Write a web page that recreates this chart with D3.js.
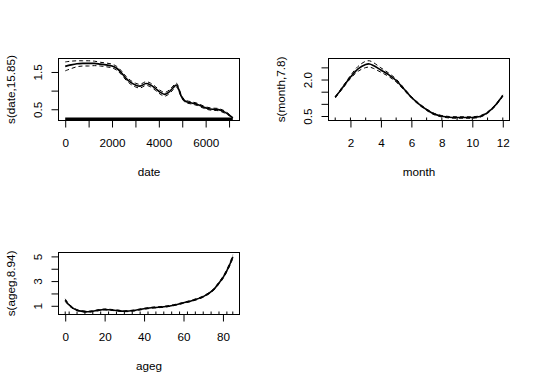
<!DOCTYPE html>
<html>
<head>
<meta charset="utf-8">
<script src="https://cdn.jsdelivr.net/npm/d3@7"></script>
<style>
body { margin: 0; background: #fff; }
svg { display: block; }
text { font-family: "Liberation Sans", Arial, sans-serif; font-size: 11.7px; fill: #000; }
</style>
</head>
<body>
<script>
// s(date) smooth: x, fitted value, half width of the +-2se band
var dateX = [0, 250, 500, 750, 1000, 1250, 1500, 1750, 2000, 2200, 2400, 2600, 2800, 3000, 3200, 3450, 3650, 3850, 4050, 4250, 4450, 4600, 4750, 4900, 5000, 5150, 5400, 5650, 5900, 6100, 6300, 6550, 6800, 7000, 7160]
var dateFit = [1.65, 1.69, 1.72, 1.73, 1.73, 1.73, 1.71, 1.69, 1.66, 1.60, 1.48, 1.33, 1.22, 1.15, 1.12, 1.19, 1.15, 1.06, 0.96, 0.90, 0.97, 1.07, 1.15, 0.95, 0.80, 0.71, 0.67, 0.63, 0.56, 0.52, 0.50, 0.49, 0.43, 0.35, 0.27]
var dateBand = [0.12, 0.10, 0.08, 0.07, 0.07, 0.06, 0.05, 0.05, 0.05, 0.05, 0.05, 0.05, 0.05, 0.05, 0.05, 0.05, 0.05, 0.05, 0.05, 0.05, 0.05, 0.05, 0.05, 0.04, 0.03, 0.03, 0.03, 0.03, 0.03, 0.03, 0.03, 0.03, 0.03, 0.02, 0.01]
var dateXTicks = [0, 1000, 2000, 3000, 4000, 5000, 6000, 7000]
var dateXLabels = [0, 2000, 4000, 6000]
var dateYTicks = [0.5, 1.0, 1.5]
var dateYLabels = [0.5, 1.5]

// s(month) smooth
var monthX = [1, 1.5, 2, 2.5, 3, 3.25, 3.5, 4, 4.5, 5, 5.5, 6, 6.5, 7, 7.5, 8, 8.5, 9, 9.5, 10, 10.5, 11, 11.5, 12]
var monthFit = [1.27, 1.68, 2.10, 2.44, 2.62, 2.64, 2.58, 2.39, 2.20, 1.96, 1.62, 1.27, 0.99, 0.76, 0.58, 0.49, 0.45, 0.44, 0.44, 0.44, 0.48, 0.64, 0.93, 1.34]
var monthBand = [0.03, 0.04, 0.06, 0.10, 0.13, 0.13, 0.12, 0.09, 0.07, 0.06, 0.04, 0.03, 0.03, 0.03, 0.03, 0.03, 0.03, 0.03, 0.03, 0.03, 0.03, 0.03, 0.03, 0.03]
var monthRug = [1, 2, 3, 4, 5, 6, 7, 8, 9, 10, 11, 12]
var monthXTicks = [2, 4, 6, 8, 10, 12]
var monthXLabels = [2, 4, 6, 8, 10, 12]
var monthYTicks = [0.5, 1.0, 1.5, 2.0, 2.5]
var monthYLabels = ["0.5", "2.0"]

// s(ageg) smooth
var agegX = [0, 2, 5, 8, 12, 16, 20, 25, 30, 35, 40, 45, 50, 55, 60, 65, 70, 75, 78, 80, 82, 84, 85]
var agegFit = [1.46, 1.06, 0.71, 0.57, 0.52, 0.62, 0.70, 0.64, 0.56, 0.62, 0.76, 0.86, 0.92, 1.05, 1.24, 1.45, 1.74, 2.27, 2.85, 3.28, 3.85, 4.55, 4.98]
var agegBand = [0.10, 0.06, 0.05, 0.04, 0.04, 0.04, 0.04, 0.04, 0.04, 0.04, 0.04, 0.04, 0.04, 0.04, 0.04, 0.05, 0.05, 0.06, 0.08, 0.09, 0.10, 0.12, 0.15]
var agegRug = [0, 2, 6, 10, 14, 18, 22, 26, 30, 34, 38, 42, 46, 50, 54, 58, 62, 66, 70, 74, 78, 82, 85]
var agegXTicks = [0, 20, 40, 60, 80]
var agegXLabels = [0, 20, 40, 60, 80]
var agegYTicks = [1, 2, 3, 4, 5]
var agegYLabels = [1, 3, 5]

var w = 540
var h = 388

var svg = d3.select("body")
    .append("svg")
    .attr("width", w)
    .attr("height", h)

var panels = [
    { x: dateX, fit: dateFit, band: dateBand, rug: null,
      xTicks: dateXTicks, xLabels: dateXLabels, yTicks: dateYTicks, yLabels: dateYLabels,
      xTitle: "date", yTitle: "s(date,15.85)" },
    { x: monthX, fit: monthFit, band: monthBand, rug: monthRug,
      xTicks: monthXTicks, xLabels: monthXLabels, yTicks: monthYTicks, yLabels: monthYLabels,
      xTitle: "month", yTitle: "s(month,7.8)" },
    { x: agegX, fit: agegFit, band: agegBand, rug: agegRug,
      xTicks: agegXTicks, xLabels: agegXLabels, yTicks: agegYTicks, yLabels: agegYLabels,
      xTitle: "ageg", yTitle: "s(ageg,8.94)" }
]

// R style 4% range expansion
function expand(ext) {
    var d = (ext[1] - ext[0]) * 0.04
    return [ext[0] - d, ext[1] + d]
}

panels.forEach(function(p, i) {
    drawPanel(p, (i % 2) * 270, Math.floor(i / 2) * 194)
})

function drawPanel(p, ox, oy) {
    var left = ox + 58.5, right = ox + 239.5
    var top = oy + 58.5, bottom = oy + 120.5

    var upper = p.fit.map(function(f, i) { return f + p.band[i] })
    var lower = p.fit.map(function(f, i) { return f - p.band[i] })

    var xScale = d3.scaleLinear()
        .domain(expand(d3.extent(p.x)))
        .range([left, right])
    var yScale = d3.scaleLinear()
        .domain(expand([d3.min(lower), d3.max(upper)]))
        .range([bottom, top])

    var g = svg.append("g")

    // axes, labels only where R keeps them
    var xLabelSet = p.xLabels.map(Number)
    var xAxis = d3.axisBottom(xScale)
        .tickValues(p.xTicks)
        .tickSize(7)
        .tickPadding(11)
        .tickFormat(function(d) { return xLabelSet.indexOf(d) >= 0 ? d : "" })
    var ax = g.append("g")
        .attr("transform", "translate(0," + bottom + ")")
        .call(xAxis)
    ax.select(".domain").remove()
    ax.selectAll("line").attr("stroke", "#000")
    ax.selectAll("text").attr("font-size", null).attr("font-family", null)

    var yLabelSet = p.yLabels.map(Number)
    var yLabelText = {}
    p.yLabels.forEach(function(l) { yLabelText[Number(l)] = String(l) })
    var yAxis = d3.axisLeft(yScale)
        .tickValues(p.yTicks)
        .tickSize(7)
        .tickFormat(function(d) { return yLabelSet.indexOf(d) >= 0 ? yLabelText[d] : "" })
    var ay = g.append("g")
        .attr("transform", "translate(" + left + ",0)")
        .call(yAxis)
    ay.select(".domain").remove()
    ay.selectAll("line").attr("stroke", "#000")
    ay.selectAll("text")
        .attr("font-size", null).attr("font-family", null)
        .attr("x", null).attr("dy", null)
        .attr("text-anchor", "middle")
        .attr("transform", "translate(-17,0) rotate(-90)")

    // rug
    if (p.rug) {
        g.selectAll(".rug")
            .data(p.rug)
            .enter()
            .append("line")
            .attr("x1", function(d) { return xScale(d) })
            .attr("x2", function(d) { return xScale(d) })
            .attr("y1", bottom)
            .attr("y2", bottom - 3)
            .attr("stroke", "#000")
            .attr("stroke-width", 1)
    } else {
        // dense data, rug becomes a solid bar
        var ext = d3.extent(p.x)
        g.append("rect")
            .attr("x", xScale(ext[0]))
            .attr("y", bottom - 3)
            .attr("width", xScale(ext[1]) - xScale(ext[0]))
            .attr("height", 3)
            .attr("fill", "#000")
    }

    // curves
    var line = d3.line()
        .x(function(d) { return xScale(d[0]) })
        .y(function(d) { return yScale(d[1]) })
        .curve(d3.curveCatmullRom.alpha(0.5))

    var fitPts = p.x.map(function(x, i) { return [x, p.fit[i]] })
    var upPts = p.x.map(function(x, i) { return [x, upper[i]] })
    var loPts = p.x.map(function(x, i) { return [x, lower[i]] })

    ;[upPts, loPts].forEach(function(pts) {
        g.append("path")
            .attr("d", line(pts))
            .attr("fill", "none")
            .attr("stroke", "#000")
            .attr("stroke-width", 1)
            .attr("stroke-dasharray", "4,3")
    })
    g.append("path")
        .attr("d", line(fitPts))
        .attr("fill", "none")
        .attr("stroke", "#000")
        .attr("stroke-width", 1.6)

    // box
    g.append("rect")
        .attr("x", left)
        .attr("y", top)
        .attr("width", right - left)
        .attr("height", bottom - top)
        .attr("fill", "none")
        .attr("stroke", "#000")
        .attr("stroke-width", 1)

    // titles
    g.append("text")
        .attr("text-anchor", "middle")
        .attr("x", (left + right) / 2)
        .attr("y", bottom + 55)
        .text(p.xTitle)

    g.append("text")
        .attr("text-anchor", "middle")
        .attr("transform", "translate(" + (ox + 15) + "," + ((top + bottom) / 2) + ") rotate(-90)")
        .text(p.yTitle)
}
</script>
</body>
</html>
